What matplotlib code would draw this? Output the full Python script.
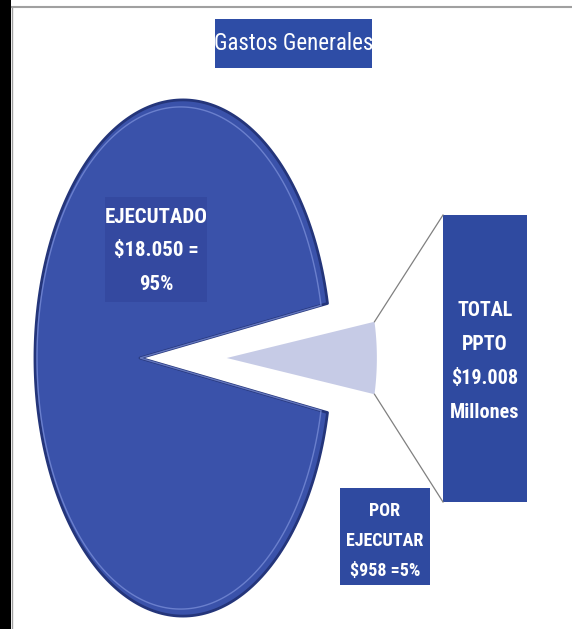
import numpy as np
import matplotlib.pyplot as plt
from matplotlib.patches import Polygon, Rectangle

# datos (millones de pesos)
categorias = ['EJECUTADO', 'POR EJECUTAR']
valores = [18050, 958]
porcentajes = [95, 5]
total_ppto = 19008

titulo = 'Gastos Generales'
etiqueta_ejec = 'EJECUTADO\n$18.050 =\n95%'
etiqueta_por = 'POR\nEJECUTAR\n$958 =5%'
etiqueta_total = 'TOTAL\nPPTO\n$19.008\nMillones'

AZUL = '#3a52aa'
AZUL_CAJA = '#2f4aa0'
LILA = '#c6cbe6'
FUENTE = ['Liberation Sans Narrow', 'Roboto Condensed', 'Liberation Sans']

# 3D look: pie seen in perspective (pixel space of the figure)
CX, CY = 140, 358
SX, SY = 135.5, 247
K = 0.29


def perspectiva(x, y):
    d = 1 - K * x
    return CX + SX * x / d, CY - SY * y / d


def wedge_poly(w, escala=1.0, n=300):
    t = np.radians(np.linspace(w.theta1, w.theta2, n))
    x = np.r_[w.center[0], w.center[0] + w.r * escala * np.cos(t)]
    y = np.r_[w.center[1], w.center[1] + w.r * escala * np.sin(t)]
    px, py = perspectiva(x, y)
    return np.column_stack([px, py])


fig = plt.figure(figsize=(5.72, 6.29), dpi=100)
ax = fig.add_axes([0, 0, 1, 1])

inicio = 180 * valores[1] / sum(valores)
wedges, _ = ax.pie(valores, startangle=inicio, explode=[0, 0.54],
                   colors=[AZUL, LILA])
wedges[1].set_radius(0.62)

grande = wedge_poly(wedges[0])
brillo = wedge_poly(wedges[0], escala=0.975)
chica = wedge_poly(wedges[1])
w1 = wedges[1]
t1, t2 = np.radians(w1.theta1), np.radians(w1.theta2)
punta_alta = perspectiva(w1.center[0] + w1.r * np.cos(t2), w1.center[1] + w1.r * np.sin(t2))
punta_baja = perspectiva(w1.center[0] + w1.r * np.cos(t1), w1.center[1] + w1.r * np.sin(t1))
for w in wedges:
    w.remove()

ax.add_patch(Polygon(grande, closed=True, fc=AZUL, ec='#24357a', lw=2.0, joinstyle='round'))
ax.add_patch(Polygon(brillo, closed=True, fc='none', ec='#7f93dc', lw=1.0, alpha=0.7))
ax.add_patch(Polygon(chica, closed=True, fc=LILA, ec='none'))

# barra total + conectores
bx0, bx1, by0, by1 = 443, 527, 215, 502
ax.plot([punta_alta[0], bx0], [punta_alta[1], by0], color='#808080', lw=0.9)
ax.plot([punta_baja[0], bx0], [punta_baja[1], by1], color='#808080', lw=0.9)
ax.add_patch(Rectangle((bx0, by0), bx1 - bx0, by1 - by0, fc=AZUL_CAJA, ec='none'))
ax.text((bx0 + bx1) / 2, 362, etiqueta_total, ha='center', va='center', color='white',
        fontsize=14.5, fontweight='bold', family=FUENTE, fontstretch='condensed', linespacing=2.0)

# titulo
ax.add_patch(Rectangle((215, 19), 157, 49, fc='#2e4da6', ec='none'))
ax.text(293.5, 44, titulo, ha='center', va='center', color='white', fontsize=16.5,
        family=FUENTE, fontstretch='condensed')

# etiquetas
ax.add_patch(Rectangle((105, 197), 102, 105, fc='#3449a0', ec='none'))
ax.text(156, 251, etiqueta_ejec, ha='center', va='center', color='white',
        fontsize=15, fontweight='bold', family=FUENTE, fontstretch='condensed', linespacing=1.95)
ax.add_patch(Rectangle((340, 488), 90, 97, fc=AZUL_CAJA, ec='none'))
ax.text(385, 541, etiqueta_por, ha='center', va='center', color='white',
        fontsize=13, fontweight='bold', family=FUENTE, fontstretch='condensed', linespacing=1.85)

# marco
ax.add_patch(Rectangle((0, 0), 11, 629, fc='black', ec='none'))
ax.plot([12, 12], [7, 629], color='#a0a0a0', lw=1)
ax.plot([12, 572], [7, 7], color='#a0a0a0', lw=1.5)

ax.set_aspect('auto')
ax.set_xlim(0, 572)
ax.set_ylim(629, 0)
ax.axis('off')

fig.savefig('out.png', dpi=100)
